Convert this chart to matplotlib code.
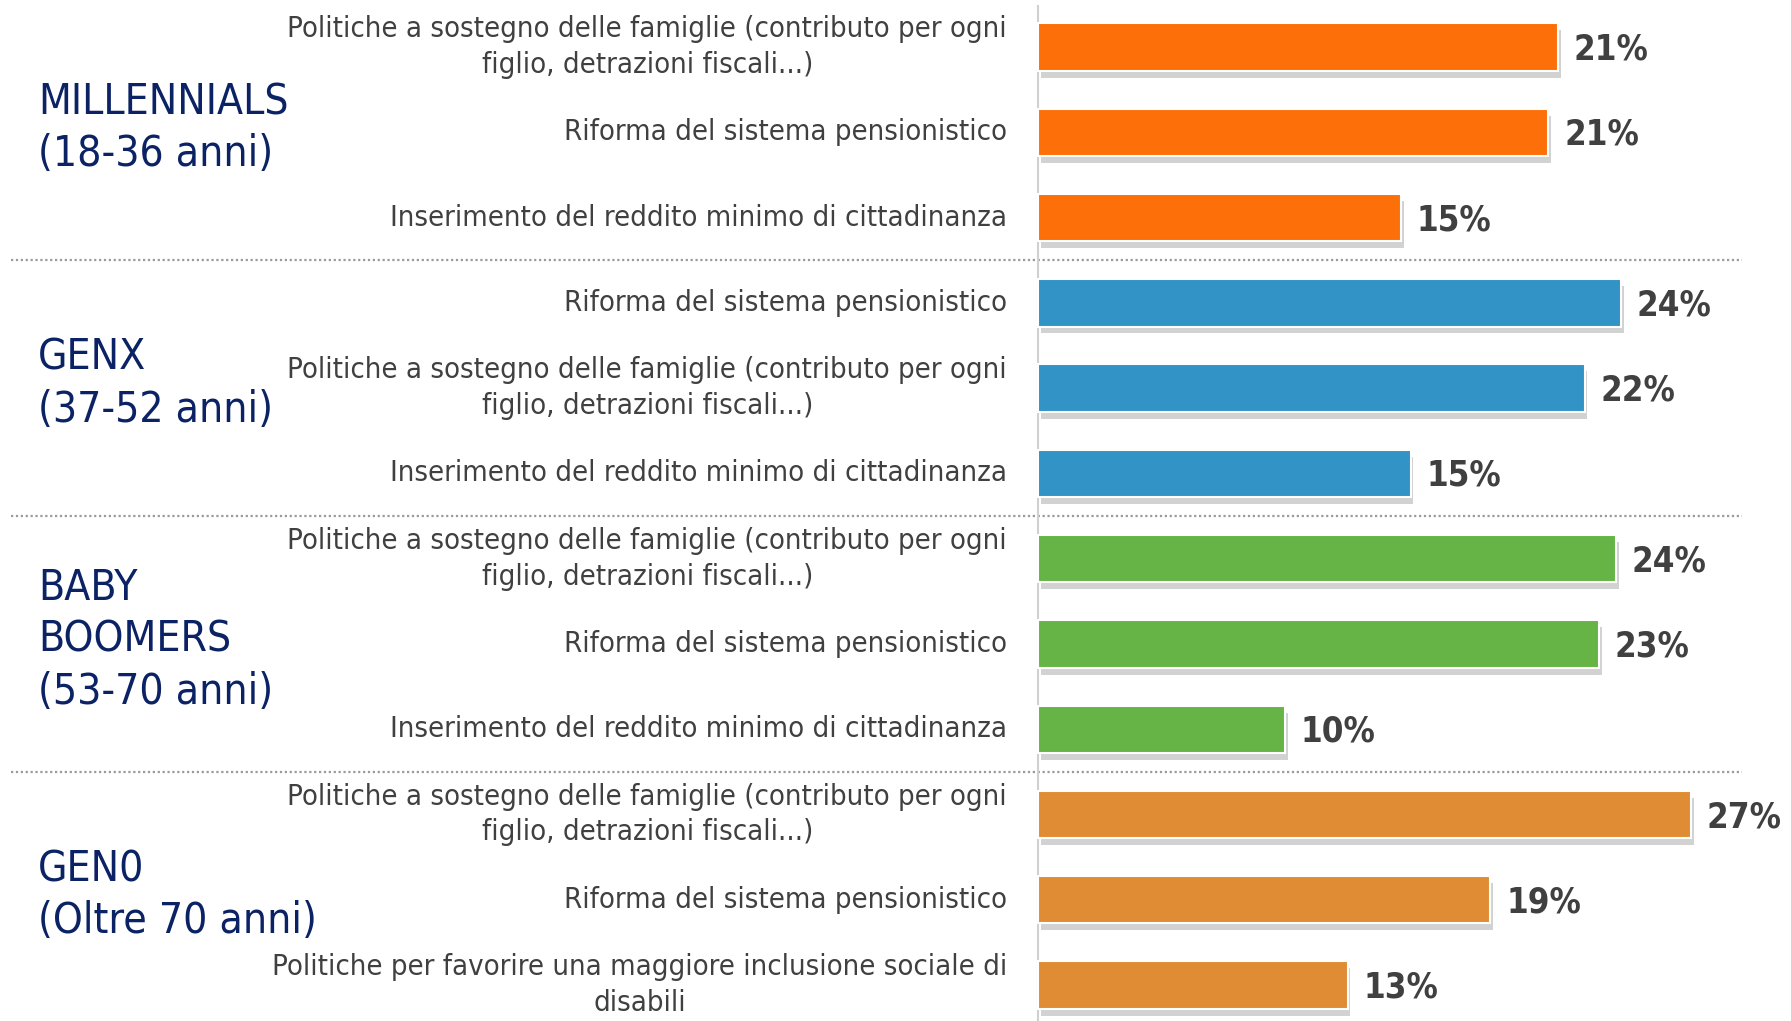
import matplotlib.pyplot as plt
import matplotlib.patheffects as pe

plt.rcParams['font.family'] = ['DejaVu Sans']
plt.rcParams['font.stretch'] = 'condensed'

ORANGE = '#FD6F08'
BLUE   = '#3193C6'
GREEN  = '#66B446'
AMBER  = '#E08C34'

FAM  = "Politiche a sostegno delle famiglie (contributo per ogni\nfiglio, detrazioni fiscali...)"
PENS = "Riforma del sistema pensionistico"
RED  = "Inserimento del reddito minimo di cittadinanza"
DIS  = "Politiche per favorire una maggiore inclusione sociale di\ndisabili"

group_names  = ["MILLENNIALS\n(18-36 anni)", "GENX\n(37-52 anni)", "BABY\nBOOMERS\n(53-70 anni)", "GEN0\n(Oltre 70 anni)"]
group_colors = [ORANGE, BLUE, GREEN, AMBER]

categories = [FAM, PENS, RED,
              PENS, FAM, RED,
              FAM, PENS, RED,
              FAM, PENS, DIS]
values     = [21.5, 21.1, 15.0,
              24.1, 22.6, 15.4,
              23.9, 23.2, 10.2,
              27.0, 18.7, 12.8]
labels     = ["21%", "21%", "15%",
              "24%", "22%", "15%",
              "24%", "23%", "10%",
              "27%", "19%", "13%"]

# pixel layout helpers (full size 1791 x 1021)
PX_PER_UNIT = 24.19
X0_PX = 1038
PITCH = 85.28
Y0_PX = 47

fig = plt.figure(figsize=(17.91, 10.21), dpi=100)
ax = fig.add_axes([0, 0, 1, 1])
ax.set_xlim(-X0_PX / PX_PER_UNIT, (1791 - X0_PX) / PX_PER_UNIT)
ax.set_ylim((1021 - Y0_PX) / PITCH, -Y0_PX / PITCH)
ax.axis('off')

ypos = list(range(len(values)))
colors = [group_colors[i // 3] for i in ypos]

ax.plot([0, 0], [-41 / PITCH, (1021 - Y0_PX) / PITCH], color='#D0D0D0', lw=1.5, zorder=2)

bars = ax.barh(ypos, values, height=0.555, color=colors, edgecolor='white', linewidth=1.5, zorder=3)
for b in bars:
    b.set_path_effects([pe.SimplePatchShadow(offset=(2, -5), shadow_rgbFace='#808080', alpha=0.35), pe.Normal()])

for y, v, lab, cat in zip(ypos, values, labels, categories):
    ax.text(v + 0.65, y + 0.03, lab, ha='left', va='center', fontsize=25, fontweight='bold', color='#404040')
    ax.text(-31 / PX_PER_UNIT, y, cat, ha='right', va='center', multialignment='center',
            fontsize=21, color='#404040', linespacing=1.35)

for g, name in enumerate(group_names):
    ax.text(-1000 / PX_PER_UNIT, g * 3 + 1 - 0.05, name, ha='left', va='center',
            fontsize=30.5, color='#0B2265', linespacing=1.3)

for sep in [2.5, 5.5, 8.5]:
    ax.plot([-1027 / PX_PER_UNIT, 704 / PX_PER_UNIT], [sep, sep], color='#9A9A9A', lw=1.6,
            linestyle=(0, (1, 1.2)), zorder=1)

fig.savefig('out.png', dpi=100)
